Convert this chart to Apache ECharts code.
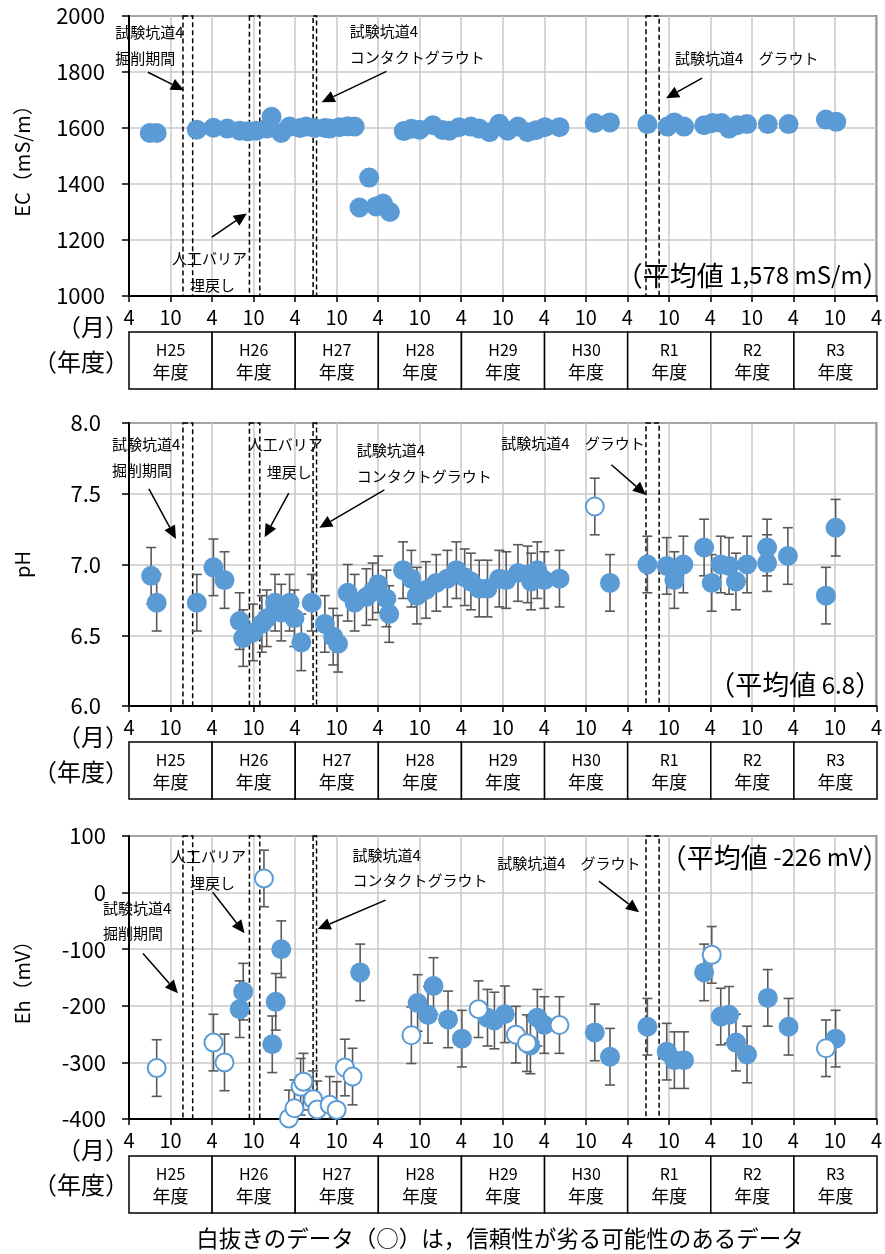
<!DOCTYPE html>
<html><head><meta charset="utf-8">
<script src="https://cdn.jsdelivr.net/npm/echarts@6/dist/echarts.min.js"></script>
<style>html,body{margin:0;padding:0;background:#fff}#c{width:885px;height:1254px}</style>
</head><body><div id="c"></div>
<script>
// x values: months elapsed since April 2013 (start of fiscal year H25)
const monthTicks = ['4', '10'];
const fiscalYears = ['H25', 'H26', 'H27', 'H28', 'H29', 'H30', 'R1', 'R2', 'R3'];
const fyUnit = '年度';

// EC (mS/m)
const ecData = [
  [3.0,1582],[4.0,1582],[9.8,1594],[12.2,1601],[14.2,1598],[16.0,1590],[17.2,1588],[18.4,1590],
  [19.9,1598],[20.6,1640],[22.0,1582],[23.2,1605],[24.7,1600],[25.6,1605],[26.8,1600],[28.3,1600],
  [29.0,1598],[30.4,1603],[31.6,1606],[32.6,1605],[33.3,1316],[34.7,1423],[35.7,1320],[36.7,1330],
  [37.7,1300],[39.7,1589],[40.8,1597],[42.0,1594],[43.9,1610],[45.3,1593],[46.3,1590],[47.7,1603],
  [49.4,1605],[50.6,1598],[52.1,1585],[53.5,1615],[54.7,1590],[56.2,1605],[57.6,1585],[58.8,1592],
  [60.1,1603],[62.2,1603],[67.3,1618],[69.5,1620],[74.9,1614],[77.8,1605],[78.8,1620],[80.2,1605],
  [83.1,1610],[84.3,1618],[85.6,1618],[86.7,1598],[87.9,1610],[89.3,1614],[92.3,1614],[95.3,1614],
  [100.7,1630],[102.2,1622]
];

// pH
const phFilled = [
  [3.2,6.92],[4.0,6.73],[9.8,6.73],[12.2,6.98],[13.8,6.89],[16.0,6.60],[16.5,6.48],[17.9,6.52],
  [19.2,6.58],[19.9,6.62],[21.1,6.73],[22.0,6.66],[23.2,6.73],[23.9,6.62],[24.9,6.45],[26.4,6.73],
  [28.3,6.58],[29.5,6.49],[30.2,6.44],[31.6,6.80],[32.6,6.73],[34.3,6.77],[35.2,6.81],[36.0,6.86],
  [37.2,6.76],[37.6,6.65],[39.6,6.96],[40.8,6.90],[41.6,6.78],[42.9,6.82],[44.4,6.87],[46.0,6.90],
  [47.3,6.96],[48.5,6.91],[49.4,6.88],[50.6,6.83],[51.8,6.83],[53.5,6.90],[54.5,6.89],[56.2,6.94],
  [57.6,6.93],[58.1,6.88],[59.0,6.96],[60.0,6.89],[62.2,6.90],[69.5,6.87],[74.9,7.00],[77.7,6.99],
  [78.8,6.89],[80.1,7.00],[83.1,7.12],[84.2,6.87],[85.5,7.00],[86.7,6.99],[87.7,6.88],[89.3,7.00],
  [92.2,7.12],[92.2,7.01],[95.2,7.06],[100.7,6.78],[102.1,7.26]
];
const phOpen = [[67.3,7.41]];
const phErr = 0.2;

// Eh (mV)
const ehFilled = [
  [16.0,-206],[16.5,-175],[20.7,-268],[21.2,-193],[22.0,-100],[33.4,-141],[41.7,-195],[43.2,-216],
  [44.0,-165],[46.1,-224],[48.1,-258],[51.8,-221],[52.8,-226],[54.3,-215],[58.0,-270],[59.0,-221],
  [60.0,-234],[67.3,-247],[69.5,-290],[74.9,-237],[77.7,-281],[78.8,-296],[80.2,-296],[83.1,-141],
  [85.5,-219],[86.7,-216],[87.7,-265],[89.3,-286],[92.3,-186],[95.3,-237],[102.1,-258]
];
const ehOpen = [
  [4.0,-310],[12.2,-265],[13.8,-300],[19.5,25],[23.1,-399],[23.9,-381],[24.8,-343],[25.2,-334],
  [26.6,-365],[27.2,-383],[29.0,-375],[30.0,-384],[31.2,-309],[32.3,-325],[40.8,-252],[50.5,-206],
  [55.9,-251],[57.5,-266],[62.2,-234],[84.2,-110],[100.7,-275]
];
const ehErr = 50;

// work periods (start, end) in months
const periods = [[7.8,9.2],[17.4,18.9],[26.6,27.1],[74.7,76.6]];

// annotations (data coordinates)
const notesEC = [
  {t:-2.0,v:1942,text:'試験坑道4'},{t:-2.0,v:1849,text:'掘削期間'},
  {t:6.2,v:1135,text:'人工バリア'},{t:8.8,v:1038,text:'埋戻し'},
  {t:31.9,v:1945,text:'試験坑道4'},{t:31.9,v:1852,text:'コンタクトグラウト'},
  {t:78.9,v:1849,text:'試験坑道4　グラウト'},
  {t:109.9,v:1074,text:'{a|（平均値}{b| 1,578 mS/m}{a|）}',mean:true}
];
const arrowsEC = [[2.74,1799,7.93,1735],[11.97,1210,17.02,1295],[37.2,1802,27.84,1692],[82.8,1778,77.6,1706]];

const notesPH = [
  {t:-2.45,v:7.846,text:'試験坑道4'},{t:-2.45,v:7.669,text:'掘削期間'},
  {t:17.16,v:7.846,text:'人工バリア'},{t:19.9,v:7.655,text:'埋戻し'},
  {t:32.9,v:7.81,text:'試験坑道4'},{t:32.9,v:7.62,text:'コンタクトグラウト'},
  {t:53.8,v:7.86,text:'試験坑道4　グラウト'},
  {t:108.8,v:6.147,text:'{a|（平均値}{b| 6.8}{a|）}',mean:true}
];
const arrowsPH = [[2.88,7.535,6.78,7.181],[23.08,7.505,19.6,7.193],[36.9,7.528,27.5,7.259],[69.7,7.705,74.7,7.492]];

const notesEH = [
  {t:6.06,v:64.2,text:'人工バリア'},{t:8.8,v:16.5,text:'埋戻し'},
  {t:-3.75,v:-27.6,text:'試験坑道4'},{t:-3.75,v:-71.7,text:'掘削期間'},
  {t:32.3,v:66,text:'試験坑道4'},{t:32.3,v:21.8,text:'コンタクトグラウト'},
  {t:53.2,v:51.9,text:'試験坑道4　グラウト'},
  {t:109.9,v:62.4,text:'{a|（平均値}{b| -226 mV}{a|）}',mean:true}
];
const arrowsEH = [[2.02,-107.4,7.07,-178.0],[12.1,0.65,16.7,-71.7],[37.07,-13.3,27.26,-64.5],[67.9,20.2,73.7,-34.5]];

// ---------------------------------------------------------------
const FONT = '"Noto Sans CJK JP","Noto Sans",sans-serif';
const BLUE = '#5B9BD5';
const chart = echarts.init(document.getElementById('c'));

const plotGrids = [
  {left:129, top:16, width:748, height:280},
  {left:129, top:423, width:748, height:283},
  {left:129, top:836, width:748, height:283}
];
const tableGrids = [
  {left:129, top:332, width:748, height:57},
  {left:129, top:742, width:748, height:57},
  {left:129, top:1156, width:748, height:57}
];
const grids = plotGrids.map(g => Object.assign({show:true, borderColor:'#000', borderWidth:1.5, backgroundColor:'#fff'}, g))
  .concat(tableGrids.map(g => Object.assign({show:false}, g)));

function plotX(gi){
  return {gridIndex:gi, type:'value', min:0, max:108, interval:6,
    axisLine:{show:true, onZero:false, lineStyle:{color:'#000', width:2}},
    axisTick:{show:true, length:6, lineStyle:{color:'#000', width:1.5}},
    axisLabel:{margin:11, fontSize:20, color:'#000', fontFamily:FONT, showMinLabel:true, showMaxLabel:true,
      formatter: v => monthTicks[Math.round(v/6)%2]},
    splitLine:{show:true, lineStyle:{color:'#c8c8c8', width:1.5}}};
}
function plotY(gi, min, max, interval, name, fmt, margin){
  return {gridIndex:gi, type:'value', min, max, interval,
    name, nameLocation:'middle', nameRotate:90, nameGap:97,
    nameTextStyle:{fontSize:20, color:'#000', fontFamily:FONT},
    axisLine:{show:true, onZero:false, lineStyle:{color:'#000', width:2}},
    axisTick:{show:true, length:7, lineStyle:{color:'#000', width:1.5}},
    axisLabel:{margin, fontSize:22, color:'#000', fontFamily:FONT, formatter:fmt},
    splitLine:{show:true, lineStyle:{color:'#c8c8c8', width:1.5}}};
}
const xAxes = [plotX(0), plotX(1), plotX(2)];
const yAxes = [
  plotY(0, 1000, 2000, 200, 'EC（mS/m）', v => String(v), 24),
  plotY(1, 6.0, 8.0, 0.5, 'pH', v => v.toFixed(1), 28),
  plotY(2, -400, 100, 100, 'Eh（mV）', v => String(v), 23)
];
for (let i = 0; i < 3; i++) {
  xAxes.push({gridIndex:3+i, type:'value', min:0, max:108, show:false});
  yAxes.push({gridIndex:3+i, type:'value', min:0, max:1, show:false});
}

function periodSeries(ai){
  return {type:'custom', xAxisIndex:ai, yAxisIndex:ai, z:3, silent:true, clip:false,
    data: periods.map(p => [p[0], p[1]]),
    renderItem(params, api){
      const cs = params.coordSys;
      const a = api.coord([api.value(0), 0]);
      const b = api.coord([api.value(1), 0]);
      return {type:'rect', shape:{x:a[0], y:cs.y, width:b[0]-a[0], height:cs.height},
        style:{fill:'none', stroke:'#000', lineWidth:1.5, lineDash:[5,3]}};
    }};
}
function errSeries(ai, pts, err){
  return {type:'custom', xAxisIndex:ai, yAxisIndex:ai, z:4, silent:true, clip:true,
    data: pts.map(p => [p[0], p[1], err]),
    renderItem(params, api){
      const t = api.value(0), v = api.value(1), e = api.value(2);
      const top = api.coord([t, v+e]), bot = api.coord([t, v-e]);
      const w = 5, st = {stroke:'#595959', lineWidth:1.6};
      return {type:'group', children:[
        {type:'line', shape:{x1:top[0], y1:top[1], x2:bot[0], y2:bot[1]}, style:st},
        {type:'line', shape:{x1:top[0]-w, y1:top[1], x2:top[0]+w, y2:top[1]}, style:st},
        {type:'line', shape:{x1:bot[0]-w, y1:bot[1], x2:bot[0]+w, y2:bot[1]}, style:st}
      ]};
    }};
}
function filledSeries(ai, pts){
  return {type:'scatter', xAxisIndex:ai, yAxisIndex:ai, z:5, symbol:'circle', symbolSize:20,
    itemStyle:{color:BLUE, opacity:1}, data:pts, silent:true};
}
function openSeries(ai, pts){
  return {type:'scatter', xAxisIndex:ai, yAxisIndex:ai, z:5, symbol:'circle', symbolSize:18,
    itemStyle:{color:'#fff', borderColor:BLUE, borderWidth:2, opacity:1}, data:pts, silent:true};
}
function noteSeries(ai, notes){
  return {type:'custom', xAxisIndex:ai, yAxisIndex:ai, z:8, silent:true, clip:false,
    data: notes.map(n => [n.t, n.v]),
    renderItem(params, api){
      const n = notes[params.dataIndex];
      const p = api.coord([api.value(0), api.value(1)]);
      const style = {text:n.text, x:p[0], y:p[1], fill:'#000',
        align:n.mean ? 'right' : 'left', verticalAlign:'middle',
        textAlign:n.mean ? 'right' : 'left', textVerticalAlign:'middle',
        font:'15px ' + FONT};
      if (n.mean) style.rich = {a:{fontSize:27, fontFamily:FONT, fill:'#000'}, b:{fontSize:24, fontFamily:FONT, fill:'#000'}};
      return {type:'text', style};
    }};
}
function arrowSeries(ai, arrows){
  return {type:'custom', xAxisIndex:ai, yAxisIndex:ai, z:9, silent:true, clip:false,
    data: arrows,
    renderItem(params, api){
      const p0 = api.coord([api.value(0), api.value(1)]);
      const p1 = api.coord([api.value(2), api.value(3)]);
      const dx = p1[0]-p0[0], dy = p1[1]-p0[1], L = Math.hypot(dx, dy), ux = dx/L, uy = dy/L;
      const hl = 13, hw = 6, bx = p1[0]-ux*hl, by = p1[1]-uy*hl;
      return {type:'group', children:[
        {type:'line', shape:{x1:p0[0], y1:p0[1], x2:bx, y2:by}, style:{stroke:'#000', lineWidth:1.5}},
        {type:'polygon', shape:{points:[[p1[0], p1[1]], [bx-uy*hw, by+ux*hw], [bx+uy*hw, by-ux*hw]]}, style:{fill:'#000'}}
      ]};
    }};
}
function tableSeries(ai){
  return {type:'custom', xAxisIndex:ai, yAxisIndex:ai, z:3, silent:true, clip:false,
    data: fiscalYears.map((f, i) => [i*12, i]),
    renderItem(params, api){
      const s = api.value(0);
      const a = api.coord([s, 1]), b = api.coord([s+12, 0]);
      const cx = (a[0]+b[0])/2, h = b[1]-a[1];
      return {type:'group', children:[
        {type:'rect', shape:{x:a[0], y:a[1], width:b[0]-a[0], height:h}, style:{fill:'#fff', stroke:'#000', lineWidth:1.5}},
        {type:'text', style:{text:fiscalYears[params.dataIndex], x:cx, y:a[1]+h*0.31, align:'center', verticalAlign:'middle',
          textAlign:'center', textVerticalAlign:'middle', font:'16px '+FONT, fill:'#000'}},
        {type:'text', style:{text:fyUnit, x:cx, y:a[1]+h*0.71, align:'center', verticalAlign:'middle',
          textAlign:'center', textVerticalAlign:'middle', font:'18px '+FONT, fill:'#000'}}
      ]};
    }};
}

const series = [
  periodSeries(0), filledSeries(0, ecData), noteSeries(0, notesEC), arrowSeries(0, arrowsEC),
  periodSeries(1), errSeries(1, phFilled.concat(phOpen), phErr), filledSeries(1, phFilled), openSeries(1, phOpen),
  noteSeries(1, notesPH), arrowSeries(1, arrowsPH),
  periodSeries(2), errSeries(2, ehFilled.concat(ehOpen), ehErr), filledSeries(2, ehFilled), openSeries(2, ehOpen),
  noteSeries(2, notesEH), arrowSeries(2, arrowsEH),
  tableSeries(3), tableSeries(4), tableSeries(5)
];

const sideTexts = [];
plotGrids.forEach(g => {
  const axisY = g.top + g.height;
  sideTexts.push({type:'text', style:{text:'（月）', x:129, y:axisY+31, align:'right', verticalAlign:'middle',
    textAlign:'right', textVerticalAlign:'middle', font:'24px '+FONT, fill:'#000'}});
  sideTexts.push({type:'text', style:{text:'（年度）', x:129, y:axisY+66, align:'right', verticalAlign:'middle',
    textAlign:'right', textVerticalAlign:'middle', font:'24px '+FONT, fill:'#000'}});
});
sideTexts.push({type:'text', style:{text:'白抜きのデータ（○）は，信頼性が劣る可能性のあるデータ', x:500, y:1238,
  align:'center', verticalAlign:'middle', textAlign:'center', textVerticalAlign:'middle', font:'22.5px '+FONT, fill:'#000'}});

chart.setOption({
  animation:false,
  backgroundColor:'#fff',
  textStyle:{fontFamily:FONT},
  grid:grids, xAxis:xAxes, yAxis:yAxes, series,
  graphic:sideTexts
});
</script></body></html>
